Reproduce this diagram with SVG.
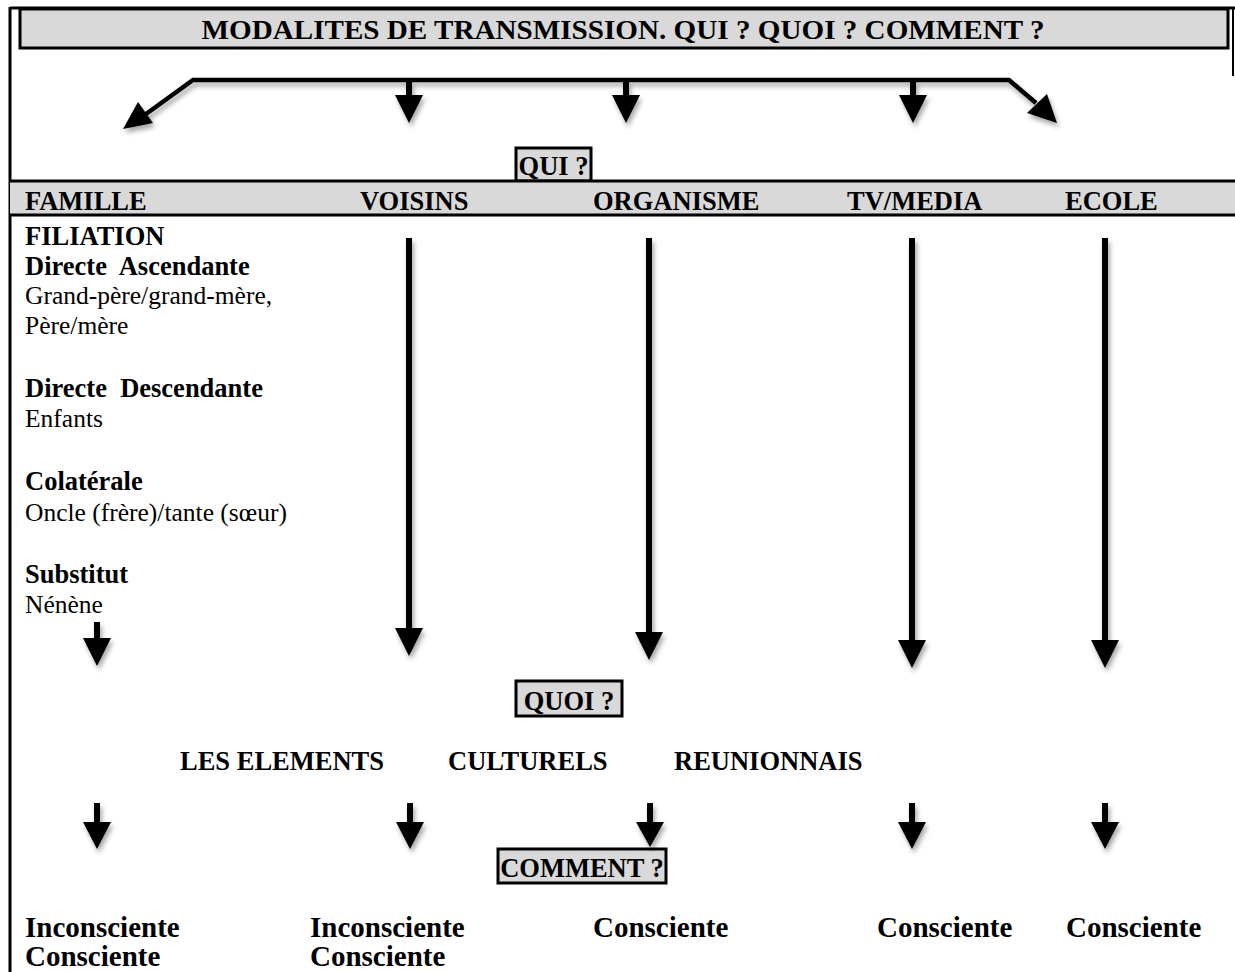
<svg xmlns="http://www.w3.org/2000/svg" width="1235" height="972" viewBox="0 0 1235 972">
<defs>
<filter id="sh" x="-50%" y="-50%" width="200%" height="200%">
<feDropShadow dx="2" dy="4" stdDeviation="2.5" flood-color="#000" flood-opacity="0.35"/>
</filter>
</defs>
<style>
text{font-family:"Liberation Serif","Times New Roman",serif;fill:#000}
.b{font-weight:bold;font-size:26.5px}
.r{font-size:25.5px}
.big{font-weight:bold;font-size:29px}
.ttl{font-weight:bold;font-size:28px}
.box{fill:#d9d9d9;stroke:#000;stroke-width:3}
.ar{fill:#000;stroke:none}
.ln{fill:none;stroke:#000;stroke-width:4.5}
.pre{white-space:pre}
</style>
<rect width="1235" height="972" fill="#fff"/>
<g id="frame">
<line x1="10" y1="8" x2="1235" y2="8" stroke="#000" stroke-width="3"/>
<line x1="10" y1="7" x2="10" y2="972" stroke="#000" stroke-width="3"/>
<line x1="1233" y1="7" x2="1233" y2="76" stroke="#000" stroke-width="2"/>
</g>
<g id="title">
<rect class="box" x="20" y="9" width="1208" height="39"/>
<text class="ttl" x="623" y="39" text-anchor="middle" textLength="843" lengthAdjust="spacingAndGlyphs">MODALITES DE TRANSMISSION. QUI ? QUOI ? COMMENT ?</text>
</g>
<g id="qui">
<rect class="box" x="516" y="148" width="75" height="33"/>
<text class="b" x="553.5" y="175" text-anchor="middle">QUI ?</text>
</g>
<g id="header">
<rect x="10" y="181" width="1225" height="34" fill="#d9d9d9"/>
<line x1="10" y1="181" x2="1235" y2="181" stroke="#000" stroke-width="3"/>
<line x1="10" y1="215" x2="1235" y2="215" stroke="#000" stroke-width="3"/>
</g>
<g id="famille"><text class="b" x="25" y="210">FAMILLE</text></g>
<g id="voisins"><text class="b" x="360" y="210">VOISINS</text></g>
<g id="organisme"><text class="b" x="593" y="210">ORGANISME</text></g>
<g id="tvmedia"><text class="b" x="847" y="210">TV/MEDIA</text></g>
<g id="ecole"><text class="b" x="1065" y="210">ECOLE</text></g>
<g id="filiation">
<text class="b" x="25" y="245">FILIATION</text>
<text class="b pre" x="25" y="275">Directe  Ascendante</text>
<text class="r" x="25" y="304">Grand-père/grand-mère,</text>
<text class="r" x="25" y="334">Père/mère</text>
<text class="b pre" x="25" y="397">Directe  Descendante</text>
<text class="r" x="25" y="427">Enfants</text>
<text class="b" x="25" y="490">Colatérale</text>
<text class="r" x="25" y="521">Oncle (frère)/tante (sœur)</text>
<text class="b" x="25" y="583">Substitut</text>
<text class="r" x="25" y="613">Nénène</text>
</g>
<g id="quoi">
<rect class="box" x="516" y="681" width="106" height="35"/>
<text class="b" x="569" y="710" text-anchor="middle">QUOI ?</text>
</g>
<g id="elements">
<text class="b" x="180" y="770">LES ELEMENTS</text>
<text class="b" x="448" y="770">CULTURELS</text>
<text class="b" x="674" y="770">REUNIONNAIS</text>
</g>
<g id="comment">
<rect class="box" x="498" y="849" width="168" height="34"/>
<text class="b" x="582" y="877" text-anchor="middle">COMMENT ?</text>
</g>
<g id="modes">
<text class="big" x="25" y="937">Inconsciente</text>
<text class="big" x="25" y="966">Consciente</text>
<text class="big" x="310" y="937">Inconsciente</text>
<text class="big" x="310" y="966">Consciente</text>
<text class="big" x="593" y="937">Consciente</text>
<text class="big" x="877" y="937">Consciente</text>
<text class="big" x="1066" y="937">Consciente</text>
</g>
<g id="connectors" filter="url(#sh)">
<path class="ln" d="M146 114 L193 80 L1009 80 L1036 103"/>
<polygon class="ar" points="123,129 138,102 153,123"/>
<polygon class="ar" points="1057,123 1027,113 1047,94"/>
<path class="ar" d="M406 80 H412 V95 H423 L409 123 L395 95 H406 Z"/>
<path class="ar" d="M623 80 H629 V95 H640 L626 123 L612 95 H623 Z"/>
<path class="ar" d="M910 80 H916 V95 H927 L913 123 L899 95 H910 Z"/>
<path class="ar" d="M94 622 H100 V638 H111 L97 666 L83 638 H94 Z"/>
<path class="ar" d="M406 238 H412 V628 H423 L409 656 L395 628 H406 Z"/>
<path class="ar" d="M646 238 H652 V632 H663 L649 660 L635 632 H646 Z"/>
<path class="ar" d="M909 238 H915 V640 H926 L912 668 L898 640 H909 Z"/>
<path class="ar" d="M1102 238 H1108 V640 H1119 L1105 668 L1091 640 H1102 Z"/>
<path class="ar" d="M94 803 H100 V822 H111 L97 849 L83 822 H94 Z"/>
<path class="ar" d="M407 803 H413 V822 H424 L410 849 L396 822 H407 Z"/>
<path class="ar" d="M647 803 H653 V822 H664 L650 847 L636 822 H647 Z"/>
<path class="ar" d="M909 803 H915 V822 H926 L912 849 L898 822 H909 Z"/>
<path class="ar" d="M1102 803 H1108 V822 H1119 L1105 849 L1091 822 H1102 Z"/>
</g>
</svg>
